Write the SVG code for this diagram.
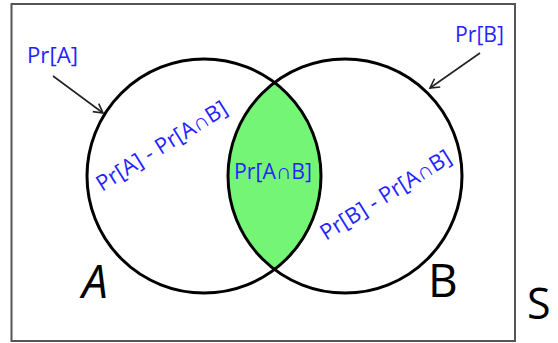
<svg xmlns="http://www.w3.org/2000/svg" width="558" height="343" viewBox="0 0 558 343">
  <defs>
    <marker id="arr" markerWidth="12" markerHeight="12" refX="10" refY="6" orient="auto" markerUnits="userSpaceOnUse">
      <polyline points="1,1 10,6 1,11" fill="none" stroke="#222" stroke-width="1.6"/>
    </marker>
  </defs>
  <style>
    .lbl { font-family: "Open Sans", "Noto Sans", sans-serif; font-size: 22px; fill: #2424ff; }
    .big { font-family: "Open Sans", "Noto Sans", sans-serif; fill: #000; }
    .circ { fill: none; stroke: #000; stroke-width: 3; }
    .conn { stroke: #222; stroke-width: 1.6; fill: none; marker-end: url(#arr); }
  </style>
  <rect x="0" y="0" width="558" height="343" fill="#fff"/>
  <g id="frame">
    <rect x="11.5" y="4" width="503.5" height="337" fill="none" stroke="#555" stroke-width="2"/>
    <text class="big" x="527" y="319" font-size="43">S</text>
  </g>
  <g id="intersection">
    <path d="M 275 83 A 117 117 0 0 1 275 269 A 117 117 0 0 1 275 83 Z" fill="#75f575"/>
    <text class="lbl" x="234" y="179" textLength="78" lengthAdjust="spacingAndGlyphs">Pr[A∩B]</text>
  </g>
  <g id="circleA">
    <circle class="circ" cx="204" cy="176" r="117"/>
    <text class="lbl" x="102" y="192" transform="rotate(-32 102 192)" textLength="150" lengthAdjust="spacingAndGlyphs">Pr[A] - Pr[A∩B]</text>
    <text class="big" x="82" y="298" font-size="46" font-style="italic">A</text>
  </g>
  <g id="circleB">
    <circle class="circ" cx="345" cy="176" r="117"/>
    <text class="lbl" x="326" y="241" transform="rotate(-32 326 241)" textLength="150" lengthAdjust="spacingAndGlyphs">Pr[B] - Pr[A∩B]</text>
    <text class="big" x="428" y="297" font-size="46">B</text>
  </g>
  <g id="labelPrA">
    <text class="lbl" x="27" y="63" textLength="51" lengthAdjust="spacingAndGlyphs">Pr[A]</text>
  </g>
  <g id="labelPrB">
    <text class="lbl" x="455" y="42" textLength="49" lengthAdjust="spacingAndGlyphs">Pr[B]</text>
  </g>
  <g id="connectors">
    <line class="conn" x1="53" y1="76" x2="103" y2="113"/>
    <line class="conn" x1="480" y1="53" x2="430" y2="88"/>
  </g>
</svg>
